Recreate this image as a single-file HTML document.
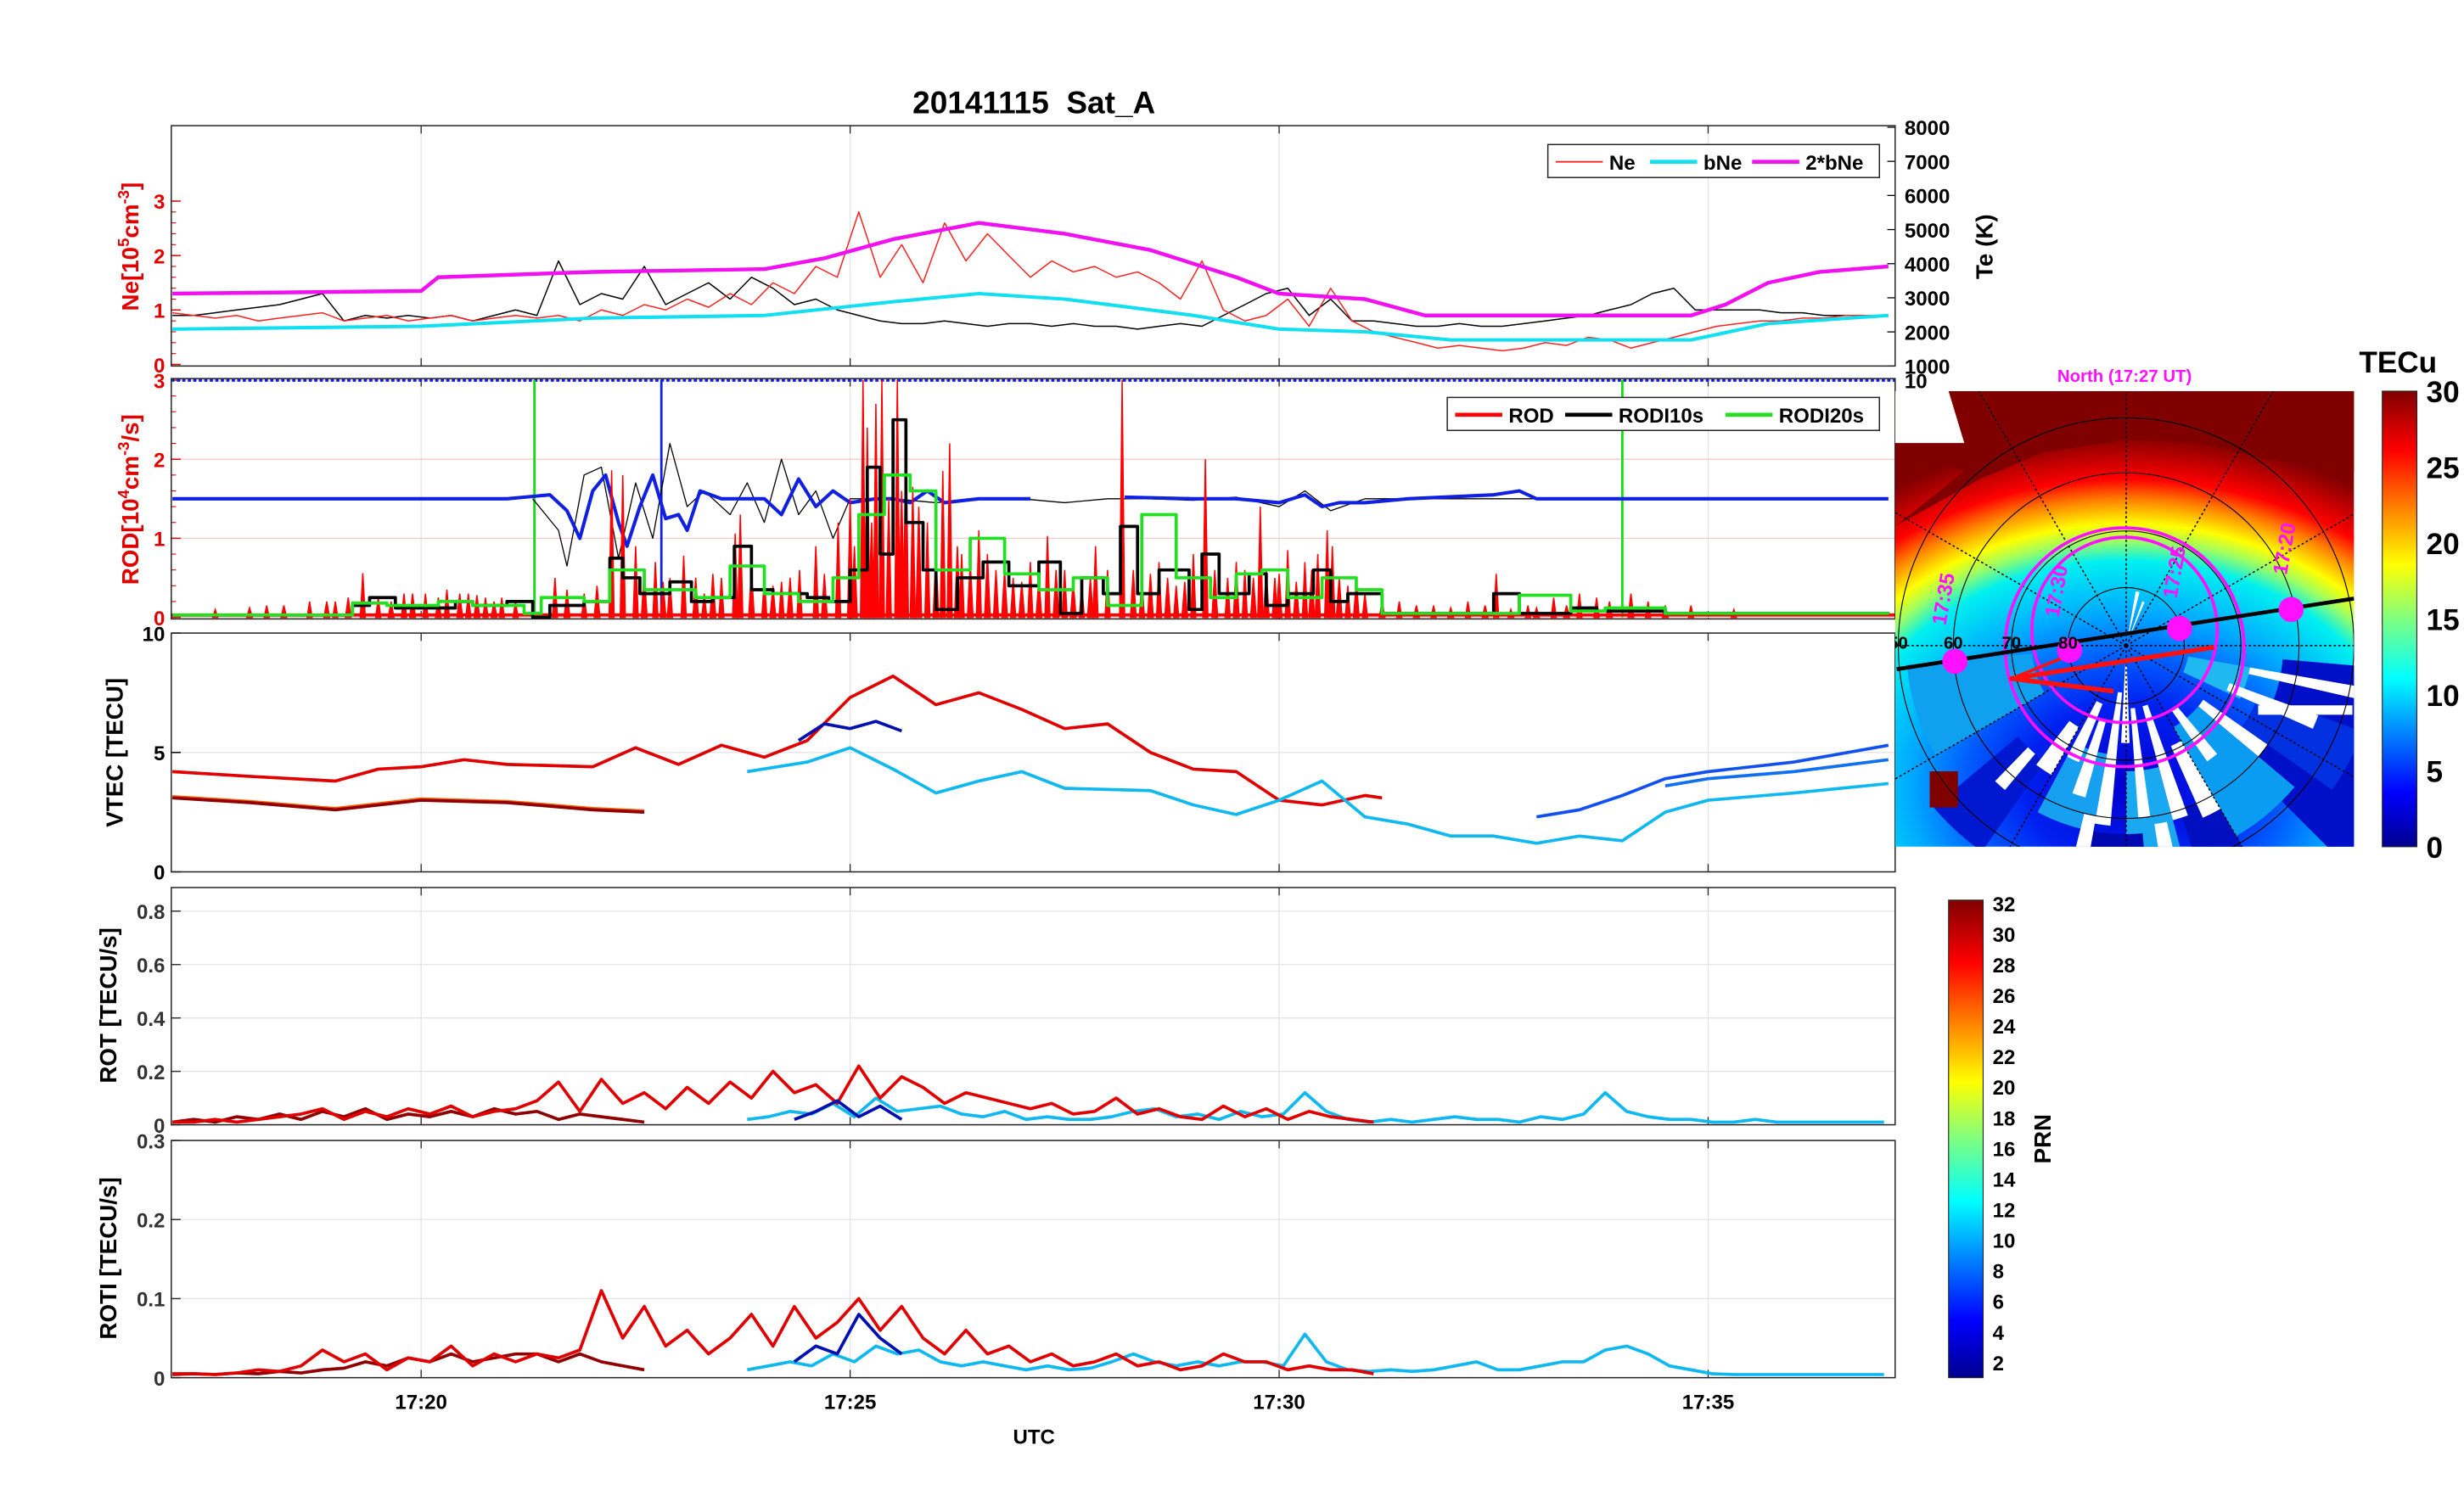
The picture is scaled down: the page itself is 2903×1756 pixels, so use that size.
<!DOCTYPE html>
<html><head><meta charset="utf-8"><style>
html,body{margin:0;padding:0;background:#fff}
svg{display:block}
text{font-family:"Liberation Sans",sans-serif;font-weight:bold}
</style></head><body>
<svg id="fig" xmlns="http://www.w3.org/2000/svg" width="2903" height="1756" viewBox="0 0 1568 948.5" preserveAspectRatio="none">
<defs>
<linearGradient id="jetV" x1="0" y1="1" x2="0" y2="0">
<stop offset="0" stop-color="#00008f"/><stop offset="0.12" stop-color="#0000ff"/><stop offset="0.37" stop-color="#00ffff"/><stop offset="0.5" stop-color="#80ff80"/><stop offset="0.62" stop-color="#ffff00"/><stop offset="0.87" stop-color="#ff0000"/><stop offset="1" stop-color="#800000"/>
</linearGradient>
<radialGradient id="mapG" gradientUnits="userSpaceOnUse" cx="1353" cy="500" r="260" gradientTransform="translate(1353 500) scale(1.25 1) translate(-1353 -500)">
<stop offset="0" stop-color="#0000d0"/><stop offset="0.2" stop-color="#0020f0"/><stop offset="0.32" stop-color="#0060ff"/><stop offset="0.42" stop-color="#00a8ff"/><stop offset="0.55" stop-color="#00f0f0"/><stop offset="0.6" stop-color="#a0ff60"/><stop offset="0.64" stop-color="#ffff00"/><stop offset="0.7" stop-color="#ff8000"/><stop offset="0.75" stop-color="#ff0000"/><stop offset="0.83" stop-color="#a00000"/><stop offset="0.86" stop-color="#800000"/>
</radialGradient>
<clipPath id="mapClip"><rect x="1206" y="249" width="292" height="290"/></clipPath>
</defs>
<g id="root"></g>
</svg>
<script>
// ---------- data ----------
const xTicks=[20,25,30,35];
const xTickLabels=["17:20","17:25","17:30","17:35"];
const neTicks=[0,1,2,3];
const teTicks=[1000,2000,3000,4000,5000,6000,7000,8000];
const rodTicks=[0,1,2,3];
const vtecTicks=[0,5,10];
const rotTicks=[0,0.2,0.4,0.6,0.8];
const rotiTicks=[0,0.1,0.2,0.3];
const tecTicks=[0,5,10,15,20,25,30];
const prnTicks=[2,4,6,8,10,12,14,16,18,20,22,24,26,28,30,32];

const ne=[0.95,0.9,0.85,0.9,0.8,0.85,0.9,0.95, 0.8,0.85,0.9,0.8,0.85,0.9,0.8,0.85, 0.9,0.85,0.9,0.8,1.0,0.9,1.1,1.0, 1.2,1.05,1.3,1.1,1.5,1.3,1.8,1.6, 2.8,1.6,2.2,1.5,2.6,1.9,2.4,2.0, 1.6,1.9,1.7,1.8,1.6,1.7,1.5,1.2, 1.9,1.0,0.8,0.9,1.2,0.7,1.4,0.8, 0.6,0.5,0.4,0.3,0.35,0.3,0.25,0.3, 0.4,0.35,0.5,0.45,0.3,0.4,0.5,0.6, 0.7,0.75,0.8,0.8,0.85,0.85,0.9,0.9,0.9];
const te=[0.9,0.9,0.95,1.0,1.05,1.1,1.2,1.3, 0.8,0.9,0.85,0.9,0.85,0.9,0.8,0.9, 1.0,0.9,1.9,1.1,1.3,1.2,1.8,1.1, 1.3,1.5,1.2,1.6,1.4,1.1,1.2,1.0, 0.9,0.8,0.75,0.75,0.8,0.75,0.7,0.75, 0.75,0.7,0.75,0.7,0.7,0.65,0.7,0.75, 0.7,0.9,1.1,1.3,1.4,0.9,1.2,0.8, 0.8,0.75,0.7,0.7,0.75,0.7,0.7,0.75, 0.8,0.85,0.9,1.0,1.1,1.3,1.4,1.0, 1.0,1.0,1.0,0.95,0.95,0.9,0.9,0.9,0.9];
const neT0=17.1, neDt=0.25;
const bNeT=[17.1,20,22,24,25.5,26.5,27.5,29,30,31,32,34.8,35.7,37.1];
const bNe=[0.65,0.7,0.85,0.9,1.15,1.3,1.2,0.9,0.65,0.6,0.45,0.45,0.75,0.9];
const b2NeT=[17.1,20,20.2,22,24,24.7,25.5,26.5,27.5,28.5,29.5,30,31,31.7,33,34.8,35.2,35.7,36.3,37.1];
const b2Ne=[1.3,1.35,1.6,1.7,1.75,1.95,2.3,2.6,2.4,2.1,1.6,1.3,1.2,0.9,0.9,0.9,1.1,1.5,1.7,1.8];

const spikeT=[17.6,18.2,18.7,19.0,19.32,19.5,19.8,20.05,20.3,20.55,20.75,20.94,21.1,21.56,21.9,22.22,22.35,22.5,22.73,22.9,23.06,23.3,23.5,23.66,23.72,24.0,24.2,24.41,24.6,24.86,25.0,25.15,25.2,25.3,25.37,25.45,25.55,25.65,25.73,25.9,26.08,26.16,26.3,26.5,26.7,26.9,27.1,27.3,27.5,27.7,27.86,28.0,28.17,28.4,28.6,28.8,29.0,29.14,29.4,29.6,29.78,29.95,30.1,30.3,30.45,30.56,30.62,30.8,31.0,31.4,31.8,32.2,32.53,32.9,33.2,33.5,33.7,34.3,34.8,35.3];
const spikeV=[0.1,0.15,0.2,0.2,0.56,0.25,0.3,0.3,0.35,0.3,0.25,0.25,0.2,0.5,0.3,1.86,1.8,0.9,0.7,0.5,0.78,0.3,0.5,1.06,1.3,0.5,0.45,0.6,0.9,1.2,1.5,3.0,2.4,2.7,3.0,1.5,3.0,2.3,1.65,1.2,1.85,2.2,0.8,1.1,0.6,0.5,0.7,1.03,0.6,0.4,0.9,0.6,3.0,0.5,0.7,0.4,0.8,2.0,0.5,0.6,1.4,0.5,0.85,0.7,0.8,1.1,0.9,0.4,0.3,0.2,0.15,0.2,0.55,0.15,0.25,0.3,0.25,0.2,0.15,0.1];
const smallT=[18.0,18.4,18.9,19.15,19.65,19.9,20.2,20.45,20.65,20.85,21.7,22.05,22.6,22.82,23.2,23.4,23.85,24.1,24.3,24.7,25.05,25.25,25.6,25.8,26.0,26.25,26.4,26.6,26.8,27.0,27.2,27.4,27.6,27.8,28.3,28.5,28.7,28.9,29.25,29.5,29.7,29.85,30.0,30.2,30.38,30.7,30.9,31.2,31.6,32.0,32.4,32.7,33.0,33.35,33.85,34.1,34.5];
const smallV=[0.12,0.15,0.2,0.25,0.2,0.3,0.25,0.3,0.28,0.2,0.35,0.4,0.6,0.45,0.5,0.55,0.6,0.4,0.5,0.55,0.9,1.2,1.6,1.4,0.8,0.9,0.7,0.8,0.6,0.45,0.5,0.6,0.45,0.5,0.6,0.55,0.5,0.45,0.6,0.7,0.5,0.6,0.55,0.45,0.6,0.5,0.45,0.2,0.15,0.12,0.15,0.1,0.12,0.15,0.2,0.3,0.15];

const rodi10T=[17.1,19.2,19.4,19.7,20.4,20.6,21.0,21.3,21.5,21.9,22.2,22.35,22.55,22.9,23.15,23.4,23.65,23.85,24.1,24.5,24.75,25.0,25.2,25.35,25.5,25.65,25.85,26.0,26.25,26.55,26.85,27.2,27.45,27.7,27.95,28.15,28.35,28.6,28.95,29.1,29.3,29.65,29.85,30.1,30.4,30.6,30.8,31.2,32.3,32.5,32.8,33.4,33.7,34.5,37.1];
const rodi10=[0.03,0.15,0.25,0.12,0.2,0.15,0.2,0.0,0.15,0.2,0.75,0.5,0.3,0.45,0.2,0.25,0.9,0.35,0.3,0.25,0.2,0.6,1.9,0.8,2.5,1.2,0.6,0.1,0.5,0.7,0.4,0.7,0.05,0.5,0.3,1.15,0.3,0.6,0.1,0.8,0.3,0.55,0.15,0.3,0.6,0.2,0.3,0.05,0.05,0.3,0.05,0.12,0.08,0.05,0.04];
const rodi20T=[17.1,19.2,19.6,20.2,20.6,21.2,21.4,21.9,22.2,22.6,23.2,23.6,24.0,24.4,24.8,25.1,25.4,25.7,26.0,26.4,26.8,27.2,27.6,28.0,28.4,28.8,29.2,29.5,29.8,30.1,30.5,30.9,31.2,32.4,32.8,33.4,33.8,34.5,37.1];
const rodi20=[0.03,0.18,0.15,0.2,0.15,0.05,0.25,0.2,0.6,0.35,0.25,0.65,0.3,0.2,0.5,1.3,1.8,1.6,0.6,1.0,0.55,0.35,0.5,0.15,1.3,0.5,0.25,0.55,0.6,0.25,0.5,0.35,0.05,0.05,0.28,0.08,0.12,0.05,0.04];

const bluT=[17.1,21.0,21.5,21.7,21.85,22.0,22.15,22.3,22.4,22.55,22.7,22.85,23.0,23.1,23.25,23.5,23.75,24.0,24.2,24.4,24.6,24.8,25.0,25.3,25.5,25.7,25.9,26.1,26.5,27.1];
const blu=[1.5,1.5,1.55,1.35,1.0,1.6,1.8,1.2,0.9,1.4,1.8,1.25,1.3,1.1,1.6,1.5,1.5,1.5,1.3,1.75,1.4,1.6,1.45,1.5,1.5,1.45,1.6,1.45,1.5,1.5];
const blu2T=[28.2,29.0,29.5,30.0,30.3,30.5,30.7,31.0,31.5,32.5,32.8,33.0,34.0,37.1];
const blu2=[1.52,1.5,1.5,1.45,1.55,1.4,1.45,1.45,1.5,1.55,1.6,1.5,1.5,1.5];
const blkT=[21.3,21.6,21.7,21.9,22.1,22.3,22.5,22.7,22.9,23.1,23.3,23.6,23.8,24.0,24.2,24.4,24.6,24.8,25.0,25.5,26.0,26.5,27.0,27.5,28.0,28.5,29.0,29.5,30.0,30.3,30.6,31.0,37.1];
const blk=[1.5,1.1,0.65,1.8,1.9,0.75,1.7,1.0,2.2,1.4,1.6,1.3,1.7,1.2,2.0,1.3,1.6,1.0,1.5,1.5,1.45,1.5,1.5,1.45,1.5,1.5,1.48,1.52,1.4,1.6,1.35,1.5,1.5];

const vRedT=[17.1,18,19,19.5,20,20.5,21,22,22.5,23,23.5,24,24.5,25,25.5,26,26.5,27,27.5,28,28.5,29,29.5,30,30.5,31,31.2];
const vRed=[4.2,4.0,3.8,4.3,4.4,4.7,4.5,4.4,5.2,4.5,5.3,4.8,5.5,7.3,8.2,7.0,7.5,6.8,6.0,6.2,5.0,4.3,4.2,3.0,2.8,3.2,3.1];
const vDkT=[17.1,18,19,20,21,22,22.6];
const vDk=[3.1,2.9,2.6,3.0,2.9,2.6,2.5];
const vCyT=[23.8,24.5,25,25.5,26,26.5,27,27.5,28.5,29,29.5,30,30.5,31,31.5,32,32.5,33,33.5,34,34.5,35,36,37.1];
const vCy=[4.2,4.6,5.2,4.3,3.3,3.8,4.2,3.5,3.4,2.8,2.4,3.0,3.8,2.3,2.0,1.5,1.5,1.2,1.5,1.3,2.5,3.0,3.3,3.7];
const vDbT=[24.4,24.7,25,25.3,25.6];
const vDb=[5.5,6.2,6.0,6.3,5.9];
const vBlT=[33,33.5,34,34.5,35,36,37.1];
const vBl=[2.3,2.6,3.2,3.9,4.2,4.6,5.3];
const vBl2T=[34.5,35,36,37.1];
const vBl2=[3.6,3.9,4.2,4.7];

const rotRed=[0.01,0.01,0.02,0.01,0.02,0.03,0.04,0.06,0.02,0.05,0.03,0.06,0.04,0.07,0.03,0.05,0.06,0.09,0.16,0.05,0.17,0.08,0.12,0.06,0.14,0.08,0.16,0.1,0.2,0.12,0.15,0.08,0.22,0.1,0.18,0.14,0.08,0.12,0.1,0.08,0.06,0.08,0.04,0.05,0.1,0.04,0.06,0.03,0.02,0.07,0.03,0.06,0.02,0.05,0.03,0.02,0.01];
const rotRedT0=17.1;
const rotDk=[0.01,0.02,0.01,0.03,0.02,0.04,0.02,0.05,0.03,0.06,0.02,0.04,0.03,0.05,0.03,0.06,0.04,0.05,0.02,0.04,0.03,0.02,0.01];
const rotDkT0=17.1;
const rotCy=[0.02,0.03,0.05,0.04,0.08,0.03,0.1,0.05,0.06,0.07,0.04,0.03,0.05,0.02,0.03,0.02,0.02,0.03,0.05,0.06,0.03,0.04,0.02,0.05,0.03,0.04,0.12,0.05,0.02,0.01,0.02,0.01,0.02,0.03,0.02,0.02,0.01,0.03,0.02,0.04,0.12,0.05,0.03,0.02,0.02,0.01,0.01,0.02,0.01,0.01,0.01,0.01,0.01,0.01];
const rotCyT0=23.8;
const rotDb=[0.02,0.05,0.09,0.03,0.07,0.02];
const rotDbT0=24.35;
const rotiRed=[0.005,0.005,0.004,0.006,0.01,0.008,0.015,0.035,0.02,0.03,0.01,0.025,0.02,0.04,0.015,0.03,0.02,0.03,0.025,0.035,0.11,0.05,0.09,0.04,0.06,0.03,0.05,0.08,0.04,0.09,0.05,0.07,0.1,0.06,0.09,0.05,0.03,0.06,0.03,0.04,0.02,0.03,0.015,0.02,0.03,0.015,0.02,0.01,0.015,0.03,0.02,0.02,0.01,0.015,0.01,0.01,0.005];
const rotiRedT0=17.1;
const rotiDk=[0.004,0.005,0.004,0.006,0.005,0.008,0.006,0.01,0.012,0.02,0.015,0.025,0.02,0.03,0.02,0.025,0.03,0.03,0.02,0.03,0.02,0.015,0.01];
const rotiDkT0=17.1;
const rotiCy=[0.01,0.015,0.02,0.015,0.03,0.02,0.04,0.03,0.035,0.02,0.015,0.02,0.015,0.01,0.015,0.01,0.012,0.02,0.03,0.02,0.015,0.02,0.015,0.02,0.02,0.015,0.055,0.02,0.01,0.008,0.01,0.008,0.01,0.015,0.02,0.01,0.01,0.015,0.02,0.02,0.035,0.04,0.03,0.015,0.01,0.005,0.004,0.004,0.004,0.004,0.004,0.004,0.004,0.004];
const rotiCyT0=23.8;
const rotiDb=[0.02,0.04,0.03,0.08,0.05,0.03];
const rotiDbT0=24.35;

// ---------- drawing ----------
const NS="http://www.w3.org/2000/svg";
const root=document.getElementById('root');
function mk(tag,attrs,parent){const e=document.createElementNS(NS,tag);for(const k in attrs)e.setAttribute(k,attrs[k]);(parent||root).appendChild(e);return e;}
const X0=109,X1=1206;
function x(t){return 268+(t-20)*54.6;}
function scale(v0,y0,v1,y1){return v=>y0+(v-v0)*(y1-y0)/(v1-v0);}
const P=[
 {top:80,bot:233,y:scale(0,232,3,128)},
 {top:241,bot:394,y:scale(0,393,3,242)},
 {top:403,bot:555,y:scale(0,555,10,403)},
 {top:565,bot:716,y:scale(0,716,0.8,580)},
 {top:726,bot:877,y:scale(0,877,0.3,726)}];
function txt(s,xx,yy,size,anchor,fill,parent,rot){const e=mk('text',{x:xx,y:yy,'font-size':size,'text-anchor':anchor||'middle',fill:fill||'#000'},parent);if(rot)e.setAttribute('transform',`rotate(${rot} ${xx} ${yy})`);e.textContent=s;return e;}
function line(ts,vs,yf,color,w,name){const pts=ts.map((t,i)=>x(t).toFixed(1)+','+yf(vs[i]).toFixed(1)).join(' ');const e=mk('polyline',{points:pts,fill:'none',stroke:color,'stroke-width':w,'stroke-linejoin':'round'});

return e;}
function reg(t0,dt,n){return Array.from({length:n},(_,i)=>t0+i*dt);}
function step(ts,vs){const T=[],V=[];ts.forEach((t,i)=>{if(i>0){T.push(t);V.push(vs[i-1]);}T.push(t);V.push(vs[i]);});return [T,V];}

const title=txt('20141115\u00a0\u00a0Sat_A',658,72,20);



P.forEach((p,i)=>{
 const g=mk('g',{});
 
 
 mk('rect',{x:X0,y:p.top,width:X1-X0,height:p.bot-p.top,fill:'#fff',stroke:'none'},g);
 xTicks.forEach(t=>{mk('line',{x1:x(t),x2:x(t),y1:p.top,y2:p.bot,stroke:'#e4e4e4','stroke-width':0.7},g);
  mk('line',{x1:x(t),x2:x(t),y1:p.bot,y2:p.bot-5,stroke:'#222','stroke-width':0.7},g);
  mk('line',{x1:x(t),x2:x(t),y1:p.top,y2:p.top+5,stroke:'#222','stroke-width':0.7},g);});
 p.g=g;
});
function yAxis(p,ticks,fmt,color,grid){ticks.forEach(v=>{const yy=p.y(v);if(grid)mk('line',{x1:X0,x2:X1,y1:yy,y2:yy,stroke:grid,'stroke-width':0.7},p.g);
 mk('line',{x1:X0,x2:X0+6,y1:yy,y2:yy,stroke:color,'stroke-width':0.8},p.g);
 const l=txt(fmt(v),X0-4,yy+5,13,'end',color,p.g);
 
 });}
yAxis(P[0],neTicks,v=>v,'#e00000',null);
yAxis(P[1],rodTicks,v=>v,'#e00000','#f4caca');
yAxis(P[2],vtecTicks,v=>v,'#000','#e4e4e4');
yAxis(P[3],rotTicks,v=>v,'#333','#e4e4e4');
yAxis(P[4],rotiTicks,v=>v,'#333','#e4e4e4');
[0,1].forEach(k=>{for(let v=0;v<=3.01;v+=0.2){const yy=P[k].y(v);mk('line',{x1:X0,x2:X0+3,y1:yy,y2:yy,stroke:'#e00000','stroke-width':0.6},P[k].g);}});
const teY=scale(1000,233,8000,81);
teTicks.forEach(v=>{const yy=teY(v);mk('line',{x1:X1-5,x2:X1,y1:yy,y2:yy,stroke:'#000','stroke-width':0.7},P[0].g);
 const l=txt(String(v),X1+6,yy+5,13,'start','#000',P[0].g);
 
 });
txt('10',X1+6,247,13,'start','#000',P[1].g);

xTicks.forEach((t,i)=>{const l=txt(xTickLabels[i],x(t),897,13);
 
 });
const xl=txt('UTC',658,919,13);



function yt(s,xx,yy,color,name){const e=txt(s,xx,yy,15,'middle',color,null,-90);return e;}
const ney=mk('text',{x:88,y:157,'font-size':15,'text-anchor':'middle',fill:'#e00000',transform:'rotate(-90 88 157)'});
ney.innerHTML='Ne[10<tspan font-size="10" dy="-6">5</tspan><tspan dy="6">cm</tspan><tspan font-size="10" dy="-6">-3</tspan><tspan dy="6">]</tspan>';


const rody=mk('text',{x:88,y:318,'font-size':15,'text-anchor':'middle',fill:'#e00000',transform:'rotate(-90 88 318)'});
rody.innerHTML='ROD[10<tspan font-size="10" dy="-6">4</tspan><tspan dy="6">cm</tspan><tspan font-size="10" dy="-6">-3</tspan><tspan dy="6">/s]</tspan>';


yt('VTEC [TECU]',78,479,'#000','vtec-axis-title');
yt('ROT [TECU/s]',74,640,'#000','rot-axis-title');
yt('ROTI [TECU/s]',74,801,'#000','roti-axis-title');
yt('Te (K)',1268,157,'#000','te-axis-title');

// panel 1
const tNe=reg(neT0,neDt,ne.length);
line(tNe,te,P[0].y,'#000',0.8,'te-line');
line(tNe,ne,P[0].y,'#ff2020',0.8,'ne-line');
line(bNeT,bNe,P[0].y,'#10e0f0',2.2,'bne-line');
line(b2NeT,b2Ne,P[0].y,'#f010f0',2.4,'2bne-line');
// panel 2
const p2=P[1];
mk('line',{x1:X0,x2:X1,y1:p2.y(3),y2:p2.y(3),stroke:'#1020e0','stroke-width':2,'stroke-dasharray':'2,1.5'});
[21.32,34.0].forEach(t=>{const e=mk('line',{x1:x(t),x2:x(t),y1:p2.y(0),y2:p2.y(3),stroke:'#10e010','stroke-width':1.5});

});
const bs=mk('line',{x1:x(22.8),x2:x(22.8),y1:p2.y(0),y2:p2.y(3),stroke:'#1020e0','stroke-width':1.5});


line(blkT,blk,p2.y,'#000',0.7,'rodi-black-thin');
line(bluT,blu,p2.y,'#1020e0',2.2,'blue-line');
line(blu2T,blu2,p2.y,'#1020e0',2.2,'blue-line-2');
mk('line',{x1:X0,x2:X1,y1:p2.y(0.03),y2:p2.y(0.03),stroke:'#ff0000','stroke-width':2});
function spikes(ts,vs,w){ts.forEach((t,i)=>{const e=mk('path',{d:`M${x(t)-w},${p2.y(0)} L${x(t)},${p2.y(vs[i])} L${x(t)+w},${p2.y(0)} Z`,fill:'#ff0000',stroke:'#ff0000','stroke-width':0.8});

});}
spikes(smallT,smallV,1.8);
spikes(spikeT,spikeV,1.6);
let s=step(rodi10T,rodi10);line(s[0],s[1],p2.y,'#000',2,'rodi10s-line');
s=step(rodi20T,rodi20);line(s[0],s[1],p2.y,'#20e020',2,'rodi20s-line');
// panel 3
line(vDkT,vDk.map(v=>v+0.05),P[2].y,'#ff6000',2,'vtec-orange');
line(vDkT,vDk,P[2].y,'#900000',2,'vtec-darkred');
line(vRedT,vRed,P[2].y,'#e00000',2,'vtec-red');
line(vCyT,vCy,P[2].y,'#10b8f0',2,'vtec-cyan');
line(vDbT,vDb,P[2].y,'#0010b0',2,'vtec-darkblue');
line(vBlT,vBl,P[2].y,'#1050f0',2,'vtec-blue');
line(vBl2T,vBl2,P[2].y,'#1070f0',2,'vtec-blue-2');
// panel 4
line(reg(rotDkT0,0.25,rotDk.length),rotDk,P[3].y,'#900000',2,'rot-darkred');
line(reg(rotCyT0,0.25,rotCy.length),rotCy,P[3].y,'#10b8f0',2,'rot-cyan');
line(reg(rotRedT0,0.25,rotRed.length),rotRed,P[3].y,'#e00000',2,'rot-red');
line(reg(rotDbT0,0.25,rotDb.length),rotDb,P[3].y,'#0010b0',2,'rot-darkblue');
// panel 5
line(reg(rotiDkT0,0.25,rotiDk.length),rotiDk,P[4].y,'#900000',2,'roti-darkred');
line(reg(rotiCyT0,0.25,rotiCy.length),rotiCy,P[4].y,'#10b8f0',2,'roti-cyan');
line(reg(rotiRedT0,0.25,rotiRed.length),rotiRed,P[4].y,'#e00000',2,'roti-red');
line(reg(rotiDbT0,0.25,rotiDb.length),rotiDb,P[4].y,'#0010b0',2,'roti-darkblue');

P.forEach(p=>{mk('rect',{x:X0,y:p.top,width:X1-X0,height:p.bot-p.top,fill:'none',stroke:'#222','stroke-width':0.8});});

function legend(items,bx,by,bw,name){const g=mk('g',{});
 
 
 mk('rect',{x:bx,y:by,width:bw,height:21,fill:'#fff',stroke:'#222','stroke-width':0.8},g);
 items.forEach(it=>{mk('line',{x1:it[0],x2:it[0]+30,y1:by+11,y2:by+11,stroke:it[2],'stroke-width':it[3]},g);
  const e=txt(it[1],it[0]+34,by+16,13,'start','#000',g);
  
  });}
legend([[990,'Ne','#ff2020',1],[1050,'bNe','#10e0f0',2.5],[1115,'2*bNe','#f010f0',2.5]],985,92,211,'legend-ne');
legend([[926,'ROD','#ff0000',2.5],[996,'RODI10s','#000',2.5],[1098,'RODI20s','#20e020',2.5]],921,253,275,'legend-rod');

// ---------- map ----------
const CX=1353, CY=411;
const mg=mk('g',{'clip-path':'url(#mapClip)'});


mk('rect',{x:1206,y:249,width:292,height:290,fill:'url(#mapG)'},mg);
mk('path',{d:'M1206,335 L1250,300 L1206,285 L1206,249 L1498,249 L1498,300 L1440,292 L1400,282 L1353,280 L1300,288 L1260,305 Z',fill:'#800000'},mg);
mk('path',{d:'M1206,249 L1240,249 L1250,282 L1206,282 Z',fill:'#fff'},mg);
function sector(a0,a1,r0,r1,fill){const p=(a,r)=>{const rad=a*Math.PI/180;return (CX+r*Math.cos(rad)).toFixed(1)+','+(CY+r*Math.sin(rad)).toFixed(1);};
 const e=mk('path',{d:`M${p(a0,r0)} L${p(a0,r1)} A${r1},${r1} 0 0 1 ${p(a1,r1)} L${p(a1,r0)} A${r0},${r0} 0 0 0 ${p(a0,r0)} Z`,fill:fill},mg);
 
 }
[[5,45,100,230,'#0010c8'],[40,60,60,140,'#0a9cf0'],[75,90,80,150,'#1aa8f0'],[100,118,70,120,'#18a0f0'],[60,72,110,150,'#0010c0'],[85,100,120,160,'#0008b0'],[20,35,90,160,'#0030e0'],[125,140,90,160,'#0018d0'],[150,175,60,140,'#10a0f0'],[10,25,40,80,'#20b8f0']].forEach(a=>sector(...a));
[[88,93,12,62],[95,100,30,115],[82,86,40,110],[105,110,50,100],[112,118,40,80],[70,75,40,115],[60,66,70,120],[50,55,50,90],[35,40,60,110],[20,24,70,130],[10,13,80,150],[120,127,60,95],[130,134,90,120],[100,104,110,145],[77,81,115,140],[-80,-76,8,35],[-70,-67,10,30]].forEach(a=>sector(a[0],a[1],a[2],a[3],'#fff'));
mk('rect',{x:1228,y:491,width:18,height:23,fill:'#800000'},mg);
mk('rect',{x:1437,y:449,width:60,height:6,fill:'#fff'},mg);
[145,110,73,37].forEach(r=>mk('circle',{cx:CX,cy:CY,r:r,fill:'none',stroke:'#000','stroke-width':0.6},mg));
for(let a=0;a<360;a+=30){const rad=a*Math.PI/180;mk('line',{x1:CX,y1:CY,x2:CX+210*Math.cos(rad),y2:CY+210*Math.sin(rad),stroke:'#000','stroke-width':0.8,'stroke-dasharray':'1.5,1.5'},mg);}
mk('circle',{cx:1352,cy:412,r:76,fill:'none',stroke:'#ff10ff','stroke-width':2},mg);
mk('circle',{cx:1352,cy:401,r:59,fill:'none',stroke:'#ff10ff','stroke-width':2},mg);
mk('path',{d:'M1409,412 L1280,432 L1345,440',fill:'none',stroke:'#ff1010','stroke-width':3,'stroke-linejoin':'round'},mg);
mk('line',{x1:1280,y1:432,x2:1317,y2:417,stroke:'#ff1010','stroke-width':2},mg);
mk('line',{x1:1207,y1:426,x2:1498,y2:381,stroke:'#000','stroke-width':2.5},mg);
[[1244,421],[1317,414],[1387,400],[1458,388]].forEach(c=>mk('circle',{cx:c[0],cy:c[1],r:8,fill:'#ff10ff'},mg));
[['17:35',1241,382],['17:30',1313,377],['17:25',1388,365],['17:20',1458,350]].forEach(l=>{txt(l[0],l[1],l[2],13,'middle','#ff10ff',mg,-80);});
[['50',1208],['60',1243],['70',1280],['80',1316]].forEach(l=>txt(l[0],l[1],413,11,'middle','#000',mg));
const mt=txt('North (17:27 UT)',1352,243,11,'middle','#ff10ff');



const cb=mk('rect',{x:1516,y:249,width:22,height:290,fill:'url(#jetV)',stroke:'#222','stroke-width':0.6});


const tecY=scale(0,539,30,249);
tecTicks.forEach(v=>{const l=txt(String(v),1544,tecY(v)+7,19,'start');
 
 });
const tl=txt('TECu',1526,237,19);


const pb=mk('rect',{x:1240,y:573,width:22,height:304,fill:'url(#jetV)',stroke:'#222','stroke-width':0.6});


const prnY=scale(1,877,32,575);
prnTicks.forEach(v=>{const l=txt(String(v),1268,prnY(v)+5,13,'start');
 
 });
yt('PRN',1305,725,'#000','prn-colorbar-title');
</script>
</body></html>
